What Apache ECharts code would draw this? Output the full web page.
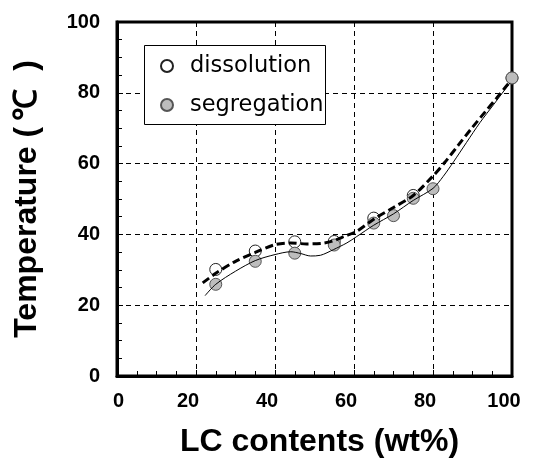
<!DOCTYPE html>
<html>
<head>
<meta charset="utf-8">
<script src="https://cdn.jsdelivr.net/npm/echarts@6/dist/echarts.min.js"></script>
<style>html,body{margin:0;padding:0;background:#fff}#c{width:536px;height:461px}</style>
</head>
<body>
<div id="c"></div>
<script>
// Data
var xTicks = [0, 20, 40, 60, 80, 100];
var yTicks = [0, 20, 40, 60, 80, 100];
var dissolution = [[25, 30.1], [35, 35.3], [45, 37.9], [55, 38.0], [65, 44.6], [75, 51.0], [100, 84.2]];
var segregation = [[25, 25.9], [35, 32.4], [45, 34.7], [55, 37.0], [65, 43.2], [70, 45.3], [75, 50.2], [80, 52.9], [100, 84.2]];
var fitSolid = [[22.3, 22.7], [25, 25.9], [30, 29.6], [35, 32.6], [40, 34.3], [44, 35.1], [46.5, 34.6], [49, 33.9], [51.5, 34.1], [54.8, 35.7], [58.2, 37.6], [60.7, 39.4], [65, 42.6], [70, 45.8], [75, 49.6], [80, 53.0], [82.6, 56.4], [85.2, 60.5], [88.5, 66.0], [91.9, 71.6], [95.3, 76.6], [98.2, 80.9], [99.5, 82.8]];
var fitDashed = [[21.7, 26.3], [25, 29.0], [30, 32.4], [35, 34.9], [40, 37.1], [44, 37.6], [48, 37.3], [52, 37.5], [54.5, 38.1], [57.5, 39.4], [60.7, 40.9], [65, 44.3], [70, 47.6], [75, 51.0], [80, 56.5], [83.1, 60.5], [86.4, 65.2], [89.8, 70.0], [93.2, 74.6], [96.1, 78.5], [98.8, 82.2], [99.5, 83.0]];
var xTitle = 'LC contents (wt%)';
var yTitle = 'Temperature ({u|℃})';
var legendNames = ['dissolution', 'segregation'];

var chart = echarts.init(document.getElementById('c'), null, {renderer: 'canvas'});
var labelFont = {fontFamily: 'Liberation Sans, Arial, sans-serif', fontWeight: 'bold', fontSize: 20, color: '#000'};
var titleFont = {fontFamily: 'Liberation Sans, Arial, sans-serif', fontWeight: 'bold', fontSize: 32, color: '#000'};
chart.setOption({
  animation: false,
  backgroundColor: '#fff',
  grid: {left: 117, right: 24, top: 22, bottom: 85, containLabel: false, outerBoundsMode: 'none',
    show: true, borderWidth: 3, borderColor: '#000', backgroundColor: 'transparent', z: 5},
  graphic: [{type: 'rect', left: 144, top: 45, shape: {width: 181, height: 79}, style: {fill: '#fff', stroke: '#000', lineWidth: 1}, z: 50}],
  legend: {
    data: legendNames, left: 144, top: 54, orient: 'vertical', padding: [0, 0, 0, 16], itemGap: 15,
    itemWidth: 12, itemHeight: 12, z: 60,
    textStyle: {fontFamily: 'DejaVu Sans', fontSize: 22.5, color: '#000', lineHeight: 24, padding: [0, 0, 0, 12]}
  },
  xAxis: {
    type: 'value', min: 0, max: 100, interval: 20,
    name: xTitle, nameLocation: 'middle', nameGap: 50,
    nameTextStyle: Object.assign({padding: [0, 0, 0, 10]}, titleFont),
    axisLine: {show: true, lineStyle: {color: '#000', width: 3}},
    axisTick: {show: true, inside: true, length: 6, lineStyle: {color: '#000'}},
    minorTick: {show: true, splitNumber: 4, length: 5, lineStyle: {color: '#000'}},
    splitLine: {show: true, lineStyle: {color: '#000', type: [5, 4], width: 1}},
    axisLabel: Object.assign({margin: 15, formatter: function (v) { return v === 0 ? '{a|0}' : '{b|' + v + '}'; },
      rich: {a: Object.assign({padding: [0, 0, 0, 3]}, labelFont), b: Object.assign({padding: [0, 16, 0, 0]}, labelFont)}}, labelFont)
  },
  yAxis: {
    type: 'value', min: 0, max: 100, interval: 20,
    name: yTitle, nameLocation: 'middle', nameGap: 74,
    nameTextStyle: Object.assign({rich: {u: Object.assign({padding: [0, 18, 0, 6]}, titleFont)}}, titleFont),
    axisLine: {show: true, lineStyle: {color: '#000', width: 3}},
    axisTick: {show: true, inside: true, length: 6, lineStyle: {color: '#000'}},
    minorTick: {show: true, splitNumber: 4, length: 5, lineStyle: {color: '#000'}},
    splitLine: {show: true, lineStyle: {color: '#000', type: [5, 4], width: 1}},
    axisLabel: Object.assign({margin: 17}, labelFont)
  },
  series: [
    {name: 'dissolution', type: 'scatter', data: dissolution, symbol: 'circle', symbolSize: 12, z: 10,
      itemStyle: {color: '#fff', borderColor: '#222', borderWidth: 1, opacity: 1}},
    {name: 'segregation', type: 'scatter', data: segregation, symbol: 'circle', symbolSize: 12, z: 11,
      itemStyle: {color: '#bdbdbd', borderColor: '#555', borderWidth: 1, opacity: 1}},
    {name: 'fit-seg', type: 'line', data: fitSolid, smooth: 0.3, showSymbol: false, symbol: 'none', z: 12,
      lineStyle: {color: '#000', width: 1}},
    {name: 'fit-dis', type: 'line', data: fitDashed, smooth: 0.3, showSymbol: false, symbol: 'none', z: 13,
      lineStyle: {color: '#000', width: 3, type: [8, 4]}}
  ]
});
</script>
</body>
</html>
